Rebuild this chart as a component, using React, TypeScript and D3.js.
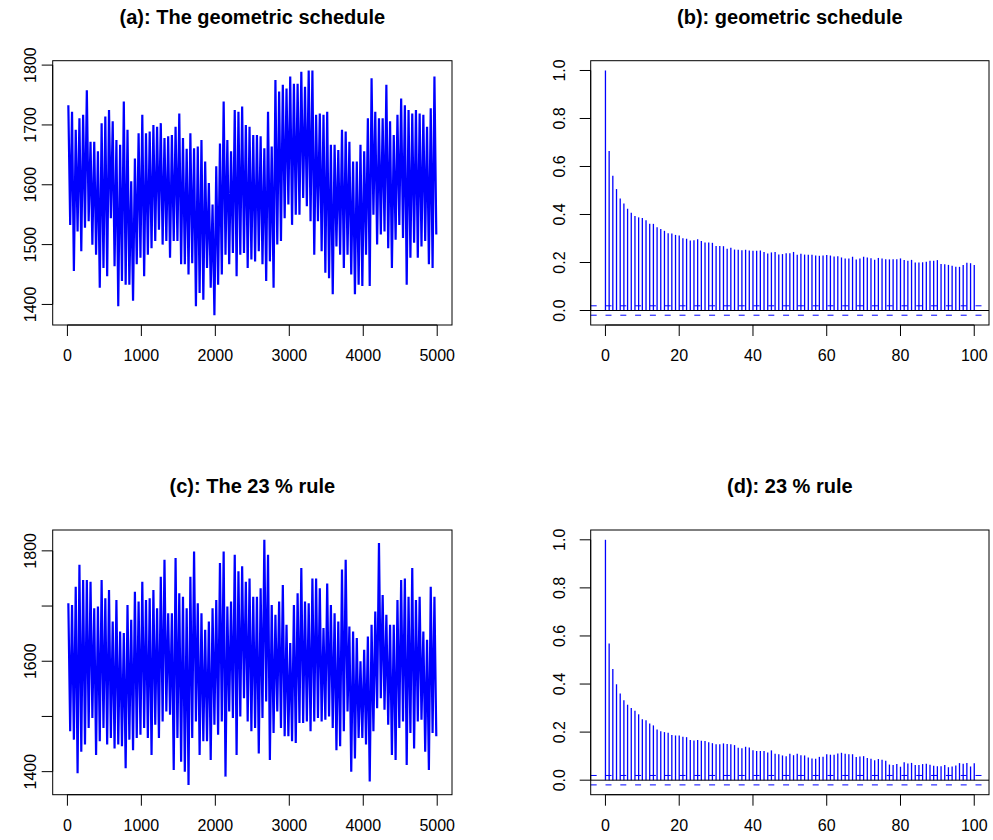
import React from 'react';
import * as d3 from 'd3';

// trace plots: highest / lowest sample read in each block of 50 iterations
const binSize = 50;
const traceAHigh = [
  1733, 1722, 1692, 1711, 1717, 1758, 1672, 1672, 1656, 1703,
  1714, 1725, 1706, 1675, 1667, 1739, 1692, 1606, 1644, 1686,
  1717, 1686, 1689, 1700, 1697, 1703, 1678, 1681, 1683, 1697,
  1719, 1678, 1660, 1686, 1661, 1664, 1675, 1639, 1603, 1567,
  1631, 1669, 1739, 1675, 1656, 1725, 1722, 1731, 1700, 1697,
  1683, 1683, 1681, 1661, 1722, 1664, 1775, 1756, 1767, 1761,
  1781, 1769, 1769, 1789, 1764, 1791, 1791, 1717, 1719, 1717,
  1722, 1667, 1667, 1658, 1692, 1689, 1672, 1639, 1639, 1667,
  1656, 1711, 1778, 1722, 1711, 1711, 1767, 1706, 1683, 1717,
  1744, 1733, 1725, 1719, 1725, 1719, 1717, 1697, 1728, 1781,
];
const traceALow = [
  1533, 1456, 1522, 1489, 1528, 1539, 1500, 1483, 1428, 1461,
  1447, 1544, 1464, 1397, 1439, 1433, 1433, 1406, 1467, 1478,
  1447, 1483, 1494, 1506, 1525, 1500, 1506, 1478, 1506, 1506,
  1467, 1467, 1450, 1469, 1397, 1419, 1408, 1461, 1428, 1382,
  1433, 1450, 1483, 1467, 1486, 1447, 1483, 1486, 1461, 1475,
  1472, 1489, 1467, 1439, 1472, 1428, 1500, 1506, 1544, 1567,
  1533, 1550, 1550, 1578, 1564, 1539, 1483, 1539, 1489, 1453,
  1444, 1417, 1497, 1483, 1461, 1483, 1450, 1417, 1433, 1431,
  1483, 1431, 1550, 1500, 1517, 1522, 1494, 1461, 1508, 1533,
  1511, 1433, 1478, 1503, 1478, 1497, 1506, 1467, 1461, 1517,
];
const traceCHigh = [
  1705, 1702, 1735, 1775, 1747, 1747, 1744, 1696, 1699, 1747,
  1714, 1729, 1672, 1711, 1654, 1651, 1702, 1675, 1726, 1708,
  1744, 1711, 1714, 1729, 1696, 1753, 1784, 1687, 1687, 1787,
  1723, 1717, 1696, 1753, 1799, 1705, 1687, 1657, 1672, 1696,
  1711, 1778, 1799, 1699, 1708, 1793, 1763, 1772, 1744, 1750,
  1717, 1717, 1732, 1820, 1793, 1702, 1684, 1708, 1738, 1666,
  1633, 1702, 1723, 1769, 1708, 1705, 1750, 1750, 1732, 1660,
  1741, 1702, 1687, 1672, 1766, 1784, 1663, 1654, 1642, 1600,
  1621, 1645, 1666, 1690, 1814, 1720, 1684, 1666, 1666, 1711,
  1747, 1750, 1717, 1769, 1711, 1717, 1654, 1639, 1735, 1717,
];
const traceCLow = [
  1473, 1458, 1397, 1436, 1449, 1479, 1497, 1430, 1455, 1479,
  1449, 1461, 1442, 1449, 1446, 1406, 1458, 1439, 1461, 1467,
  1479, 1461, 1430, 1485, 1461, 1491, 1509, 1503, 1403, 1461,
  1418, 1400, 1376, 1461, 1491, 1430, 1455, 1455, 1421, 1485,
  1467, 1491, 1391, 1509, 1497, 1430, 1500, 1533, 1491, 1473,
  1479, 1433, 1497, 1527, 1421, 1470, 1509, 1479, 1464, 1464,
  1455, 1452, 1488, 1488, 1491, 1473, 1491, 1497, 1491, 1494,
  1500, 1479, 1439, 1446, 1473, 1509, 1400, 1424, 1461, 1461,
  1449, 1382, 1473, 1515, 1533, 1512, 1485, 1430, 1421, 1479,
  1491, 1412, 1470, 1442, 1491, 1494, 1436, 1403, 1470, 1464,
];

// autocorrelations, lags 0..100
const acfB = [
  1.0, 0.665, 0.561, 0.506, 0.467, 0.446, 0.424, 0.407, 0.394, 0.388,
  0.385, 0.376, 0.361, 0.361, 0.347, 0.34, 0.332, 0.322, 0.321, 0.315,
  0.313, 0.301, 0.299, 0.292, 0.293, 0.297, 0.29, 0.283, 0.283, 0.282,
  0.269, 0.269, 0.268, 0.257, 0.261, 0.254, 0.253, 0.251, 0.253, 0.25,
  0.249, 0.249, 0.25, 0.244, 0.238, 0.242, 0.244, 0.233, 0.235, 0.239,
  0.239, 0.244, 0.232, 0.236, 0.233, 0.232, 0.232, 0.229, 0.228, 0.229,
  0.231, 0.229, 0.225, 0.226, 0.221, 0.217, 0.217, 0.224, 0.213, 0.217,
  0.224, 0.221, 0.218, 0.211, 0.219, 0.217, 0.214, 0.213, 0.214, 0.214,
  0.217, 0.21, 0.207, 0.211, 0.2, 0.2, 0.201, 0.203, 0.207, 0.207,
  0.21, 0.194, 0.193, 0.19, 0.186, 0.182, 0.182, 0.19, 0.199, 0.197,
  0.19,
];
const acfD = [
  1.0, 0.569, 0.463, 0.399, 0.361, 0.333, 0.314, 0.3, 0.289, 0.274,
  0.253, 0.249, 0.236, 0.228, 0.211, 0.204, 0.2, 0.197, 0.188, 0.186,
  0.186, 0.181, 0.179, 0.167, 0.165, 0.167, 0.164, 0.163, 0.158, 0.154,
  0.149, 0.149, 0.153, 0.151, 0.15, 0.146, 0.135, 0.133, 0.139, 0.136,
  0.125, 0.121, 0.121, 0.121, 0.115, 0.124, 0.11, 0.108, 0.103, 0.1,
  0.11, 0.104, 0.11, 0.104, 0.103, 0.094, 0.09, 0.089, 0.097, 0.097,
  0.108, 0.106, 0.106, 0.111, 0.114, 0.11, 0.108, 0.108, 0.096, 0.099,
  0.1, 0.092, 0.089, 0.083, 0.088, 0.085, 0.081, 0.065, 0.063, 0.067,
  0.056, 0.075, 0.069, 0.072, 0.063, 0.063, 0.067, 0.068, 0.064, 0.06,
  0.058, 0.058, 0.063, 0.054, 0.057, 0.061, 0.071, 0.068, 0.072, 0.057,
  0.07,
];
const ciBound = 0.0196;

const traceXTicks = [0, 1000, 2000, 3000, 4000, 5000];
const acfXTicks = [0, 20, 40, 60, 80, 100];
const traceYTicks = [1400, 1500, 1600, 1700, 1800];
const traceALabels = [1400, 1500, 1600, 1700, 1800];
const traceCLabels = [1400, 1600, 1800];
const acfYTicks = [0, 0.2, 0.4, 0.6, 0.8, 1.0];

const titles = [
  '(a): The geometric schedule',
  '(b): geometric schedule',
  '(c): The 23 % rule',
  '(d): 23 % rule',
];

const BLUE = '#0000ff';
const FONT = '"Liberation Sans", Arial, Helvetica, sans-serif';

// R style axis range: data range stretched by 4% on each side
function rRange(lo, hi) {
  const ext = (hi - lo) * 0.04;
  return [lo - ext, hi + ext];
}

function Frame({ box, x, y, xTicks, yTicks, yLabels, yFmt, title, labelGap }) {
  const tick = 11;
  const cx = (box.left + box.right) / 2;
  return (
    <g>
      <text x={cx} y={box.top - 37} textAnchor="middle" fontWeight="bold" fontSize={20} fontFamily={FONT}>
        {title}
      </text>
      <rect x={box.left} y={box.top} width={box.right - box.left} height={box.bottom - box.top}
        fill="none" stroke="#000" strokeWidth={1} />
      {/* x axis */}
      <line x1={x(xTicks[0])} x2={x(xTicks[xTicks.length - 1])} y1={box.bottom} y2={box.bottom} stroke="#000" />
      {xTicks.map((t) => (
        <g key={'x' + t}>
          <line x1={x(t)} x2={x(t)} y1={box.bottom} y2={box.bottom + tick} stroke="#000" />
          <text x={x(t)} y={box.bottom + 36} textAnchor="middle" fontSize={16} fontFamily={FONT}>{t}</text>
        </g>
      ))}
      {/* y axis */}
      <line x1={box.left} x2={box.left} y1={y(yTicks[0])} y2={y(yTicks[yTicks.length - 1])} stroke="#000" />
      {yTicks.map((t) => (
        <line key={'y' + t} x1={box.left - tick} x2={box.left} y1={y(t)} y2={y(t)} stroke="#000" />
      ))}
      {yLabels.map((t) => (
        <text key={'yl' + t} transform={`translate(${box.left - labelGap},${y(t)}) rotate(-90)`}
          textAnchor="middle" fontSize={16} fontFamily={FONT}>{yFmt(t)}</text>
      ))}
    </g>
  );
}

function TracePanel({ box, high, low, yLabels, title }) {
  const x = d3.scaleLinear().domain(rRange(1, binSize * high.length)).range([box.left, box.right]);
  const y = d3.scaleLinear()
    .domain(rRange(d3.min(low), d3.max(high)))
    .range([box.bottom, box.top]);
  const pts = [];
  high.forEach((h, i) => {
    pts.push([i * binSize + binSize * 0.25, h]);
    pts.push([i * binSize + binSize * 0.75, low[i]]);
  });
  const line = d3.line().x((d) => x(d[0])).y((d) => y(d[1]));
  return (
    <g>
      <path d={line(pts)} fill="none" stroke={BLUE} strokeWidth={2.2} strokeLinejoin="miter" />
      <Frame box={box} x={x} y={y} xTicks={traceXTicks} yTicks={traceYTicks}
        yLabels={yLabels} yFmt={(v) => String(v)} title={title} labelGap={16.5} />
    </g>
  );
}

function AcfPanel({ box, acf, title }) {
  const x = d3.scaleLinear().domain(rRange(0, acf.length - 1)).range([box.left, box.right]);
  const y = d3.scaleLinear()
    .domain(rRange(Math.min(-ciBound, d3.min(acf)), 1))
    .range([box.bottom, box.top]);
  return (
    <g>
      {acf.map((v, k) => (
        <line key={k} x1={x(k)} x2={x(k)} y1={y(0)} y2={y(v)} stroke={BLUE} strokeWidth={1.3} />
      ))}
      <line x1={box.left} x2={box.right} y1={y(0)} y2={y(0)} stroke="#000" />
      {[ciBound, -ciBound].map((c) => (
        <line key={c} x1={box.left} x2={box.right} y1={y(c)} y2={y(c)} stroke={BLUE}
          strokeDasharray="6,8.8" />
      ))}
      <Frame box={box} x={x} y={y} xTicks={acfXTicks} yTicks={acfYTicks}
        yLabels={acfYTicks} yFmt={(v) => v.toFixed(1)} title={title} labelGap={25.5} />
    </g>
  );
}

export default function App() {
  const top = { top: 60.7, bottom: 325 };
  const bot = { top: 530, bottom: 794.7 };
  const leftCol = { left: 52.7, right: 452 };
  const rightCol = { left: 590.7, right: 989 };
  return (
    <svg width={993} height={840} style={{ position: 'absolute', left: 0, top: 0, background: '#fff' }}>
      <rect width={993} height={840} fill="#fff" />
      <TracePanel box={{ ...leftCol, ...top }} high={traceAHigh} low={traceALow}
        yLabels={traceALabels} title={titles[0]} />
      <AcfPanel box={{ ...rightCol, ...top }} acf={acfB} title={titles[1]} />
      <TracePanel box={{ ...leftCol, ...bot }} high={traceCHigh} low={traceCLow}
        yLabels={traceCLabels} title={titles[2]} />
      <AcfPanel box={{ ...rightCol, ...bot }} acf={acfD} title={titles[3]} />
    </svg>
  );
}
